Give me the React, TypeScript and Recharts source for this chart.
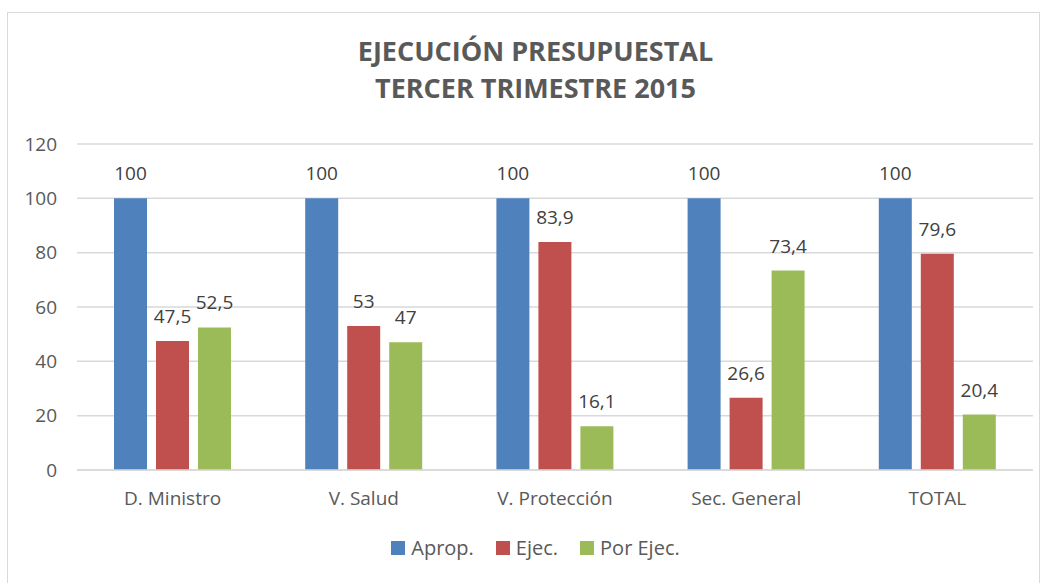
import { BarChart, Bar, XAxis, YAxis, CartesianGrid, LabelList } from 'recharts';

const categories = ['D. Ministro', 'V. Salud', 'V. Protección', 'Sec. General', 'TOTAL'];
const aprop = [100, 100, 100, 100, 100];
const ejec = [47.5, 53, 83.9, 26.6, 79.6];
const porEjec = [52.5, 47, 16.1, 73.4, 20.4];
const yTicks = [0, 20, 40, 60, 80, 100, 120];

const series = [
  { key: 'aprop', name: 'Aprop.', color: '#4F81BD' },
  { key: 'ejec', name: 'Ejec.', color: '#C0504D' },
  { key: 'porEjec', name: 'Por Ejec.', color: '#9BBB59' },
];

const data = categories.map((name, i) => ({ name, aprop: aprop[i], ejec: ejec[i], porEjec: porEjec[i] }));

const FONT = '"Open Sans", sans-serif';
const fmt = (v: any) => String(v).replace('.', ',');

export default function App() {
  return (
    <div style={{ position: 'absolute', left: 0, top: 0, width: 1045, height: 583, background: '#fff', overflow: 'hidden' }}>
      <div style={{ position: 'absolute', left: 7, top: 12, width: 1033, height: 600, border: '1px solid #D9D9D9', boxSizing: 'border-box' }} />
      <div style={{ position: 'absolute', left: 0, top: 32, width: 1071, textAlign: 'center', fontFamily: FONT, fontWeight: 700, fontSize: 27, lineHeight: '37px', color: '#595959' }}>
        EJECUCIÓN PRESUPUESTAL<br />TERCER TRIMESTRE 2015
      </div>
      <div style={{ position: 'absolute', left: 0, top: 0 }}>
        <BarChart width={1045} height={583} data={data} margin={{ top: 144, right: 12, bottom: 83, left: 0 }} barCategoryGap={37} barGap={9}>
          <CartesianGrid vertical={false} stroke="#D9D9D9" strokeWidth={1.5} />
          <XAxis dataKey="name" height={30} axisLine={{ stroke: '#D9D9D9', strokeWidth: 1.5 }} tickLine={false} tickSize={0} tickMargin={22}
            tick={{ fill: '#595959', fontSize: 19, fontFamily: FONT }} />
          <YAxis domain={[0, 120]} ticks={yTicks} width={77} axisLine={false} tickLine={false} tickSize={0} tickMargin={20}
            tick={{ fill: '#595959', fontSize: 19, fontFamily: FONT }} />
          {series.map(s => (
            <Bar key={s.key} dataKey={s.key} name={s.name} fill={s.color} isAnimationActive={false}>
              <LabelList dataKey={s.key} position="top" offset={18} formatter={fmt} style={{ fill: '#404040', fontSize: 19, fontFamily: FONT }} />
            </Bar>
          ))}
        </BarChart>
      </div>
      <div style={{ position: 'absolute', left: 0, top: 534, width: 1071, display: 'flex', justifyContent: 'center', fontFamily: FONT, fontSize: 20, color: '#595959' }}>
        {series.map(s => (
          <div key={s.key} style={{ display: 'flex', alignItems: 'center', margin: '0 11px' }}>
            <span style={{ width: 14, height: 14, background: s.color, display: 'inline-block', marginRight: 6 }} />
            <span>{s.name}</span>
          </div>
        ))}
      </div>
    </div>
  );
}
